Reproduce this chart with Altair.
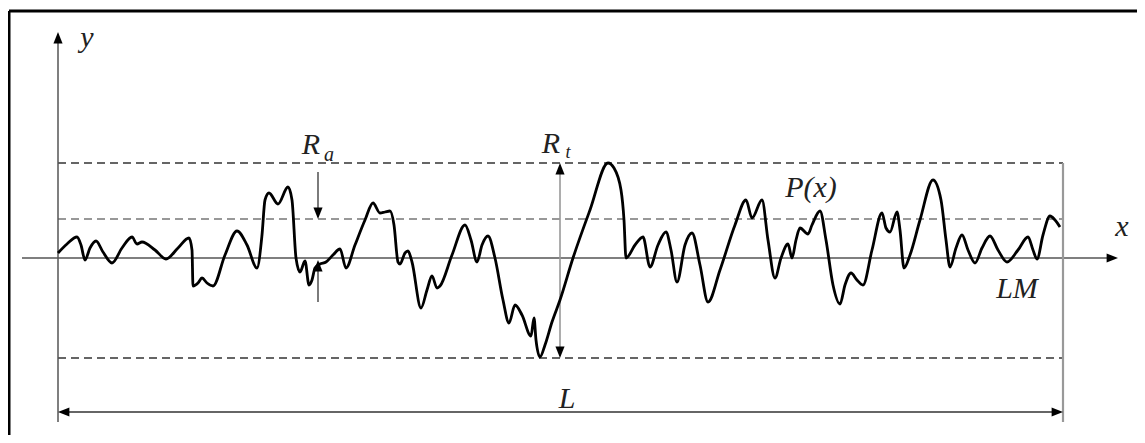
import altair as alt
import pandas as pd

# ---- profile P(x): x along the sampling length, y height relative to mean line LM
prof_x = [0, 9, 19, 23, 27, 32, 38, 45, 54, 64, 74, 79, 84, 97, 108, 120, 131, 134, 135, 140,
          144, 149, 155, 167, 179, 189, 199, 204, 207, 211, 220, 230, 234, 238, 242, 247, 251, 254, 257, 262,
          268, 275, 282, 288, 297, 307, 315, 322, 327, 332, 336, 340, 342, 347, 350, 354, 363, 369, 374, 379,
          382, 394, 407, 413, 419, 424, 430, 437, 445, 451, 457, 464, 473, 476, 478, 482, 487, 494, 502, 515,
          532, 550, 556, 563, 566, 568, 577, 585, 592, 600, 608, 613, 619, 627, 634, 642, 650, 662, 677, 688,
          694, 704, 710, 717, 723, 730, 734, 738, 742, 750, 754, 762, 768, 775, 782, 787, 793, 799, 805, 814,
          824, 828, 832, 839, 842, 846, 852, 862, 875, 883, 888, 892, 898, 904, 910, 917, 924, 932, 940, 949,
          960, 970, 975, 979, 985, 992, 997, 1002]
prof_y = [5, 14, 21, 13, -2, 10, 17, 6, -5, 10, 21, 14, 16, 8, -1, 10, 20, 8, -28, -25,
          -20, -25, -28, 3, 27, 13, -10, 23, 58, 65, 54, 71, 58, 0, -14, -3, -27, -22, -10, -6,
          -4, 3, 9, -10, 13, 38, 55, 45, 46, 47, 33, -4, -6, 5, 7, -4, -50, -32, -18, -30,
          -28, 3, 33, 18, -4, 13, 22, 0, -42, -65, -47, -57, -78, -60, -82, -99, -87, -64, -42, 0,
          48, 95, 90, 68, 38, 0, 13, 21, -9, 13, 26, 8, -24, 13, 25, -7, -44, -12, 33, 58,
          40, 58, 18, -20, 0, 14, 0, 18, 30, 24, 33, 47, 18, -27, -46, -27, -15, -22, -27, 8,
          45, 30, 26, 46, 28, -10, 3, 38, 78, 58, 18, -9, 10, 23, 8, -5, 10, 22, 8, -4,
          8, 21, 8, -1, 23, 42, 38, 31]

# ---- characteristic levels and sampling length
L_len = 1005
Rp_level = 95      # highest peak line
Ra_level = 39      # arithmetic mean deviation line
Rv_level = -100    # deepest valley line

X = dict(scale=alt.Scale(domain=[-50, 1079], nice=False, zero=False), axis=None)
Y = dict(scale=alt.Scale(domain=[-177, 250], nice=False, zero=False), axis=None)

FONT = "Times New Roman, Liberation Serif, DejaVu Serif, serif"


def seg(rows):
    return pd.DataFrame(rows, columns=["x", "y", "x2", "y2"])


def rules(rows, color, width, dash=None):
    kw = dict(color=color, strokeWidth=width)
    if dash:
        kw["strokeDash"] = dash
    return alt.Chart(seg(rows)).mark_rule(**kw).encode(
        x=alt.X("x:Q", **X), y=alt.Y("y:Q", **Y), x2="x2:Q", y2="y2:Q")


ARROW = "M0,0L-1,-0.4L-1,0.4Z"


def heads(rows, color="black", size=520):
    df = pd.DataFrame(rows, columns=["x", "y", "ang"])
    return alt.Chart(df).mark_point(shape=ARROW, filled=True, opacity=1, color=color,
                                    size=size, strokeWidth=0).encode(
        x=alt.X("x:Q", **X), y=alt.Y("y:Q", **Y), angle=alt.Angle("ang:Q", scale=None))


def label(x, y, txt, size=30):
    return alt.Chart(pd.DataFrame({"x": [x], "y": [y], "t": [txt]})).mark_text(
        font=FONT, fontStyle="italic", fontSize=size, color="#222",
        align="center", baseline="middle").encode(
        x=alt.X("x:Q", **X), y=alt.Y("y:Q", **Y), text="t:N")


frame = rules([[-49, 247, 1090, 247], [-49, 247, -49, -190]], "black", 3)
dashed_top = rules([[0, Rp_level, L_len, Rp_level], [0, Rv_level, L_len, Rv_level]], "#333", 1.7, [8, 5])
dashed_ra = rules([[0, Ra_level, L_len, Ra_level]], "#777", 1.7, [8, 5])
axes = rules([[-36, 0, 1052, 0], [0, -164, 0, 218]], "#555", 1.5)
right_v = rules([[L_len, Rp_level, L_len, -164]], "#999", 2.2)
l_line = rules([[4, -154, L_len - 4, -154]], "#666", 2)
rt_line = rules([[502, Rp_level - 4, 502, Rv_level + 4]], "#999", 1.6)
ra_line = rules([[260, 86, 260, Ra_level + 6], [260, -44, 260, -6]], "#444", 1.4)

arrows = heads([
    [1060, 0, 0], [0, 226, 270],
    [0, -154, 180], [L_len, -154, 0],
    [502, Rp_level, 270], [502, Rv_level, 90],
    [260, Ra_level, 90], [260, -2, 270],
])

profile = alt.Chart(pd.DataFrame({"x": prof_x, "y": prof_y})).mark_line(
    color="black", strokeWidth=2.8, interpolate="monotone").encode(
    x=alt.X("x:Q", **X), y=alt.Y("y:Q", **Y))

labels = alt.layer(
    label(29, 220, "y"),
    label(253, 113, "R"),
    label(271, 103, "a", 20),
    label(493, 114, "R"),
    label(510, 105, "t", 18),
    label(753, 70, "P(x)"),
    label(1064, 31, "x"),
    label(959, -31, "LM"),
    label(509, -141, "L"),
)

chart = alt.layer(frame, dashed_top, dashed_ra, axes, right_v, l_line, rt_line, ra_line,
                  profile, arrows, labels).properties(
    width=1129, height=427, padding=0, background="white",
    autosize=alt.AutoSizeParams(type="none")
).configure_view(stroke=None)

chart.save("out.html", embed_options={"renderer": "svg", "actions": False})
